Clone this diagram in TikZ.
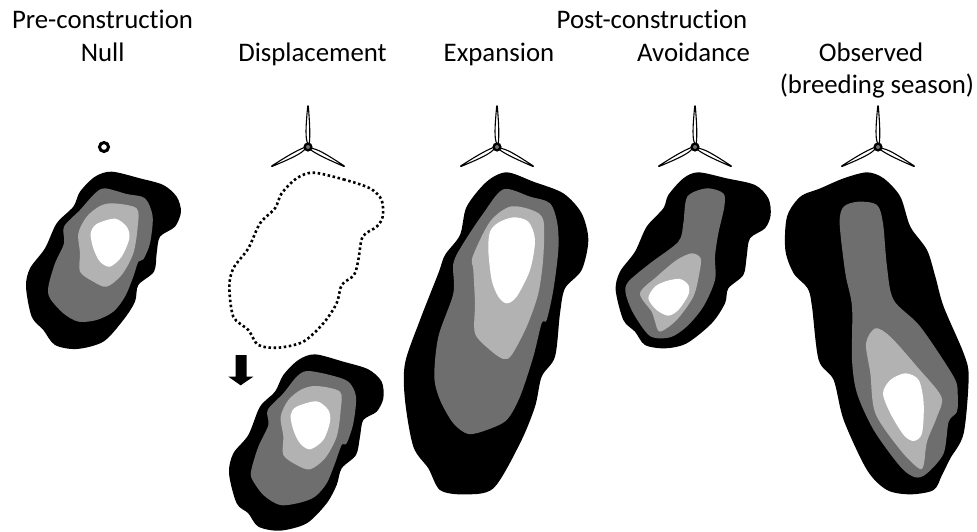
\documentclass[tikz,border=0pt]{standalone}
\usepackage{fontspec}
\setmainfont[Ligatures=NoCommon]{Carlito}
\definecolor{midgrey}{HTML}{6E6E6E}
\definecolor{lightgrey}{HTML}{B2B2B2}
\tikzset{
  label text/.style={font=\fontsize{26.8}{30}\selectfont, text=black, inner sep=0pt, anchor=base},
  zone black/.style={fill=black},
  zone mid/.style={fill=midgrey},
  zone light/.style={fill=lightgrey},
  zone white/.style={fill=white},
  outline dots/.style={draw=black, line width=2.6pt, dash pattern=on 2.5pt off 2.6pt},
  blade/.style={draw=black, fill=white, line width=1.1pt, line join=round},
  turbine/.pic={
    \foreach \a in {0,-118,118}{
      \draw[blade,rotate=\a] (0,-3) .. controls (-3,-8) and (-2.2,-20) .. (-0.3,-41) -- (0.3,-41) .. controls (1.6,-25) and (2.4,-12) .. (1.2,-3) -- cycle;
    }
    \fill[black] (0,0) circle (4.6);
    \fill[midgrey] (0,0) circle (2);
  }
}
\begin{document}
\begin{tikzpicture}[x=1pt,y=-1pt]
\useasboundingbox (0,0) rectangle (977,531);
\fill[white] (0,0) rectangle (977,531);

% labels
\node[label text] (pre) at (102.5,28.3) {Pre-construction};
\node[label text] (null) at (102.7,61) {Null};
\node[label text] (disp) at (312.5,61) {Displacement};
\node[label text] (exp) at (499,61) {Expansion};
\node[label text] (post) at (652,28.3) {Post-construction};
\node[label text] (avoid) at (693.5,61) {Avoidance};
\node[label text] (obs) at (871,61) {Observed};
\node[label text] (season) at (877,93) {(breeding season)};

% turbines and the null marker
\draw[black,line width=3pt] (104,147) circle (4.5);
\pic at (308,147) {turbine};
\pic at (497,147) {turbine};
\pic at (695,147) {turbine};
\pic at (878,147) {turbine};

% Null
\begin{scope}[shift={(0,120)},scale=1/3]
\fill[zone black] plot[smooth cycle] coordinates {(335,155)(420,175)(490,195)(530,230)(543,275)(525,320)(480,350)(470,400)(462,455)(415,495)(405,545)(370,600)(310,665)(230,687)(165,675)(130,630)(95,590)(78,500)(90,445)(135,385)(170,310)(220,260)(240,215)(285,170)};
\fill[zone mid] plot[smooth cycle] coordinates {(315,205)(380,222)(435,235)(458,290)(450,370)(430,418)(415,425)(400,470)(375,530)(340,575)(290,600)(235,605)(190,580)(150,535)(145,500)(165,430)(192,370)(192,320)(240,270)(285,220)};
\fill[zone light] plot[smooth cycle] coordinates {(340,250)(410,265)(413,320)(400,400)(365,465)(320,500)(280,485)(240,455)(240,400)(235,340)(260,290)(300,258)};
\fill[zone white] plot[smooth cycle] coordinates {(345,296)(380,320)(388,355)(365,410)(330,440)(300,425)(280,385)(272,340)(290,312)};
\draw[outline dots] plot[smooth cycle] coordinates {(940,158)(1030,178)(1110,205)(1145,240)(1148,290)(1130,320)(1088,350)(1075,420)(1062,465)(1025,495)(1010,550)(970,610)(910,665)(835,683)(775,675)(745,630)(700,590)(688,500)(700,445)(745,385)(780,310)(825,265)(845,220)(890,175)};
\end{scope}

% Displacement
\begin{scope}[shift={(220,340)},scale=1/3]
\fill[black] (47,45) -- (80,45) -- (80,110) -- (100,110) -- (62,136) -- (25,110) -- (47,110) -- cycle;
\fill[zone black] plot[smooth cycle] coordinates {(285,43)(370,65)(445,88)(485,125)(490,175)(470,215)(430,240)(420,290)(408,345)(365,385)(350,435)(320,490)(260,550)(180,572)(115,560)(85,520)(50,490)(27,400)(40,340)(85,285)(120,200)(165,155)(190,105)(235,60)};
\fill[zone mid] plot[smooth cycle] coordinates {(262,93)(330,105)(385,125)(408,170)(400,250)(380,310)(365,315)(345,370)(320,430)(285,470)(240,488)(180,495)(130,465)(95,415)(95,385)(115,320)(145,255)(143,210)(190,160)(230,110)};
\fill[zone light] plot[smooth cycle] coordinates {(290,138)(360,155)(362,210)(350,290)(315,355)(270,388)(230,375)(190,345)(190,290)(182,230)(205,180)(245,148)};
\fill[zone white] plot[smooth cycle] coordinates {(290,184)(325,210)(330,245)(310,300)(270,328)(240,310)(220,270)(212,225)(230,200)};
\end{scope}

% Expansion
\begin{scope}[shift={(400,160)},scale=1/3]
\fill[zone black] plot[smooth cycle] coordinates {(320,37)(400,65)(490,100)(545,160)(565,240)(545,330)(495,385)(480,460)(465,590)(425,650)(405,740)(360,850)(280,985)(190,1003)(120,990)(85,925)(40,860)(15,720)(15,610)(60,480)(115,340)(135,285)(180,225)(200,140)(260,65)};
\fill[zone mid] plot[smooth cycle] coordinates {(310,88)(390,110)(450,130)(472,190)(475,270)(460,390)(440,480)(425,490)(400,590)(360,710)(320,780)(260,810)(205,822)(160,790)(120,720)(103,650)(115,530)(160,400)(160,310)(190,250)(250,160)};
\fill[zone light] plot[smooth cycle] coordinates {(330,140)(395,150)(430,180)(430,290)(415,400)(380,500)(335,585)(310,597)(270,570)(225,520)(225,430)(220,330)(218,290)(270,185)};
\fill[zone white] plot[smooth cycle] coordinates {(340,172)(385,185)(405,240)(390,330)(350,410)(320,430)(295,410)(275,360)(265,270)(270,215)(295,188)};
\end{scope}

% Avoidance
\begin{scope}[shift={(600,100)},scale=1/3]
\fill[zone black] plot[smooth cycle] coordinates {(295,217)(380,235)(465,255)(505,295)(512,345)(495,385)(450,415)(440,470)(430,525)(385,565)(375,610)(335,670)(260,730)(195,745)(135,735)(105,695)(70,660)(47,570)(60,515)(105,455)(140,380)(190,325)(205,285)(250,235)};
\fill[zone mid] plot[smooth cycle] coordinates {(320,265)(370,280)(373,320)(355,400)(345,470)(345,540)(310,620)(260,680)(210,712)(150,708)(100,640)(77,580)(85,545)(150,490)(235,425)(250,370)(262,290)};
\fill[zone light] plot[smooth cycle] coordinates {(275,460)(302,475)(298,520)(280,590)(230,660)(180,695)(165,665)(155,635)(120,580)(170,530)(230,480)};
\fill[zone white] plot[smooth cycle] coordinates {(240,537)(265,555)(265,585)(235,630)(205,647)(170,630)(145,595)(165,560)(200,543)};
\end{scope}

% Observed
\begin{scope}[shift={(777,100)},scale=1/3]
\fill[zone black] plot[smooth cycle] coordinates {(270,217)(320,235)(370,290)(400,380)(450,450)(475,530)(500,620)(560,760)(575,830)(560,1000)(520,1075)(495,1125)(470,1170)(400,1183)(330,1170)(270,1110)(200,960)(170,840)(125,780)(105,620)(92,565)(50,520)(25,450)(30,350)(70,290)(130,265)(200,235)};
\fill[zone mid] plot[smooth cycle] coordinates {(245,305)(300,315)(318,370)(330,500)(350,600)(430,680)(530,830)(542,880)(540,935)(515,965)(500,1060)(450,1120)(415,1132)(370,1100)(290,990)(240,880)(225,780)(225,620)(205,520)(188,370)(200,320)};
\fill[zone light] plot[smooth cycle] coordinates {(295,685)(340,710)(420,800)(493,890)(480,950)(450,1025)(440,1095)(425,1105)(370,1050)(295,940)(280,820)(267,730)};
\fill[zone white] plot[smooth cycle] coordinates {(385,820)(425,840)(440,910)(435,1000)(410,1023)(380,1005)(340,940)(318,880)(340,840)};
\end{scope}
\end{tikzpicture}
\end{document}
